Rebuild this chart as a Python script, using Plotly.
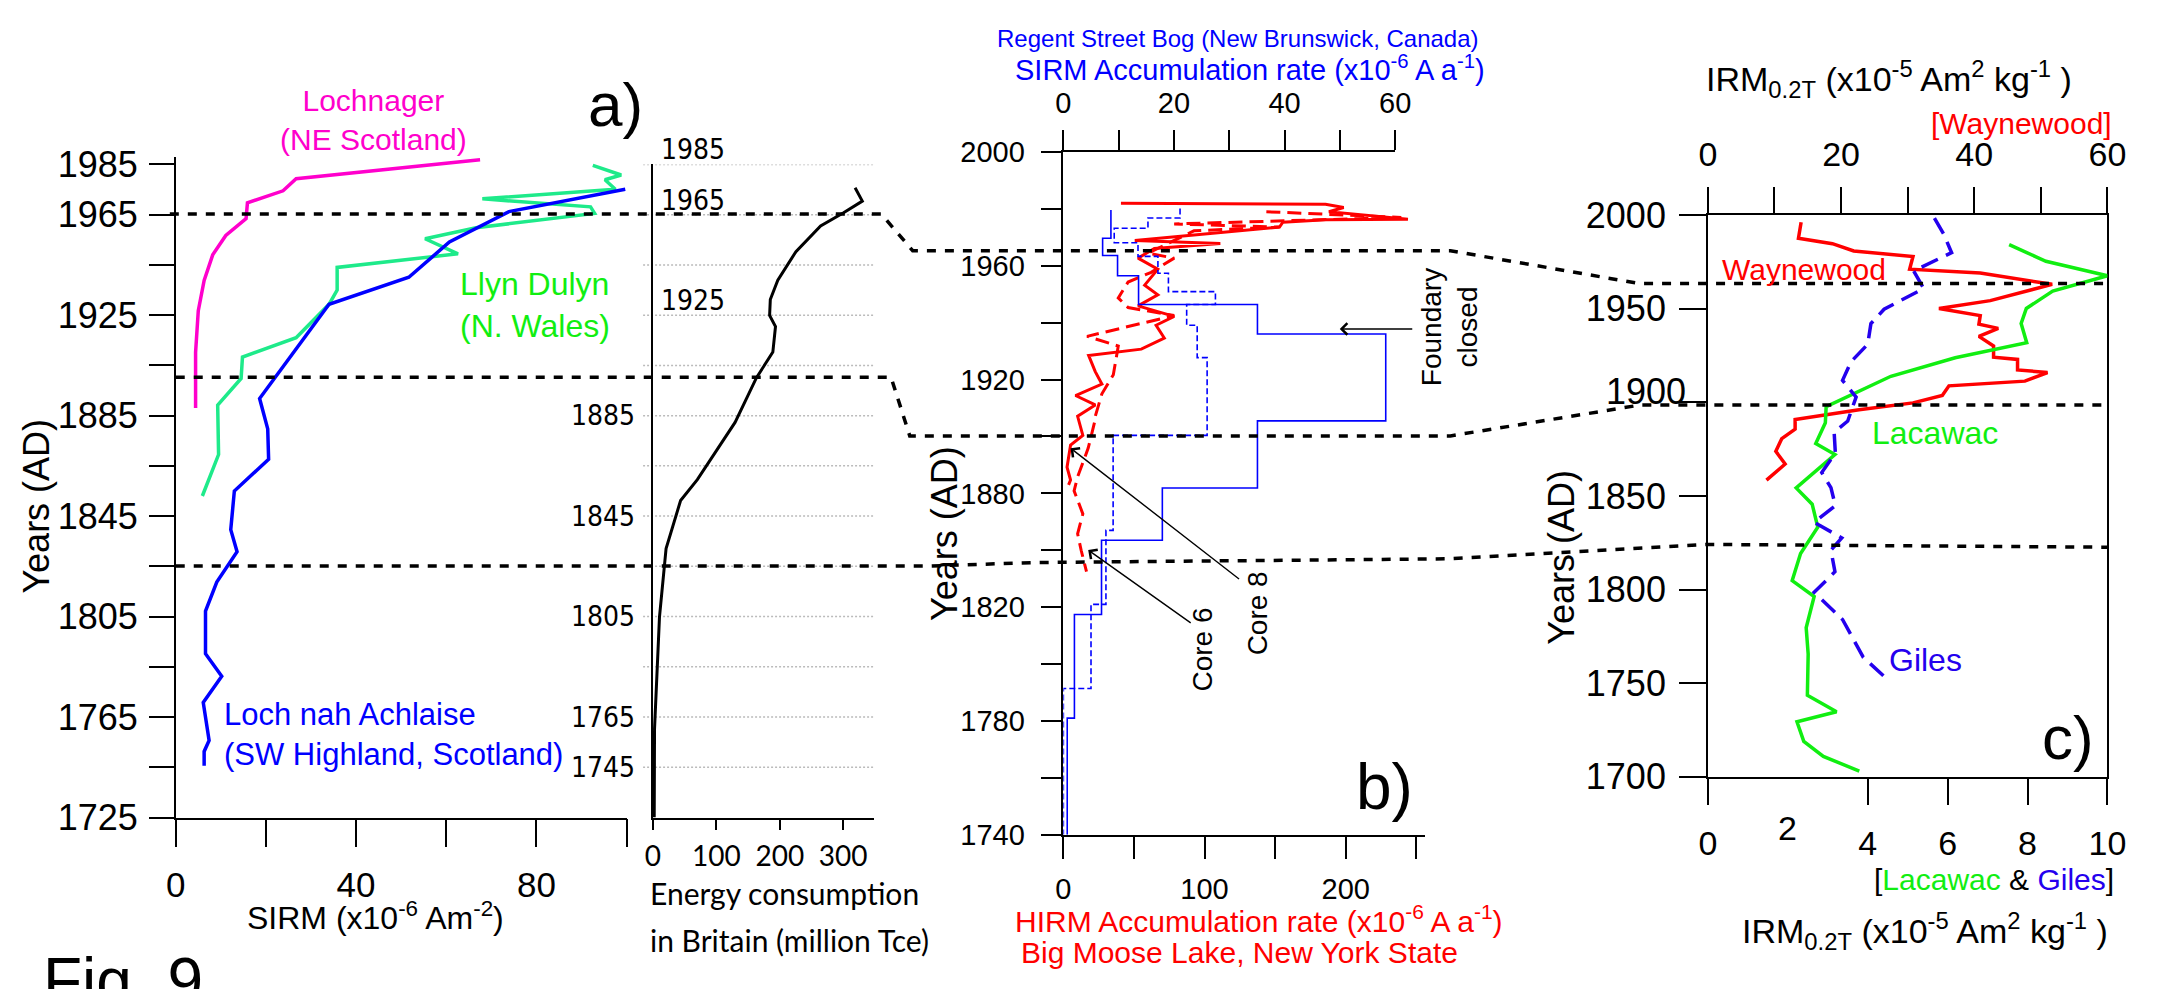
import plotly.graph_objects as go

W, H = 2159, 989

# ---------------- data ----------------
# Panel a : SIRM (x10^-6 Am^-2) against year (AD)
lochnager_sirm = [67.5, 26.7, 23.8, 15.9, 15.6, 11.1, 8.2, 6.3, 5.0, 4.4, 4.4]
lochnager_year = [1986.9, 1979.3, 1974.5, 1969.7, 1963.4, 1956.7, 1949.0, 1938.8, 1926.8, 1910.2, 1888.0]

llyn_sirm = [92.5, 98.8, 95.2, 97.5, 68.0, 92.0, 92.9, 66.6, 55.3, 62.6, 35.8, 35.8, 34.0,
             26.7, 14.8, 14.5, 9.3, 9.5, 5.9]
llyn_year = [1984.6, 1980.8, 1978.9, 1975.1, 1971.3, 1968.1, 1965.5, 1959.8, 1955.4, 1949.4,
             1944.0, 1935.0, 1929.3, 1916.0, 1908.3, 1899.8, 1889.2, 1869.5, 1853.0]

achlaise_sirm = [99.7, 73.9, 60.7, 51.7, 34.0, 18.6, 20.4, 20.6, 13.0, 12.2, 13.6, 9.1, 6.6,
                 6.6, 10.2, 6.1, 7.4, 6.3, 6.3]
achlaise_year = [1975.1, 1966.2, 1954.1, 1940.1, 1929.3, 1891.8, 1879.7, 1867.6, 1855.0, 1839.6,
                 1830.8, 1818.7, 1807.2, 1790.2, 1781.2, 1770.8, 1755.7, 1751.3, 1745.6]

# Energy consumption in Britain (million Tce)
energy_val = [318.8, 330.2, 300.6, 264.4, 225.5, 196.9, 185.1, 184.0, 193.3, 189.1, 163.3,
              129.5, 70.0, 43.6, 20.7, 10.3, 2.5, 2.0]
energy_year = [1975.7, 1970.4, 1965.8, 1960.5, 1950.3, 1938.9, 1931.2, 1924.9, 1920.5, 1910.3,
               1900.1, 1882.3, 1859.5, 1851.2, 1832.1, 1804.8, 1760.3, 1725.0]
energy_grid_years = list(range(1745, 1986, 20))
energy_labels_right = [1985, 1965, 1925]
energy_labels_left = [1885, 1845, 1805, 1765, 1745]

# Panel b : Regent Street Bog SIRM accumulation (step profiles), position on the b) year scale
bog_solid_val = [8.6, 7.1, 9.8, 13.6, 35.1, 58.3, 35.1, 17.9, 6.9, 2.0, 0.7]
bog_solid_bounds = [1979.6, 1969.7, 1963.6, 1956.5, 1946.4, 1936.0, 1905.5, 1881.9, 1863.5,
                    1837.4, 1801.0, 1760.0]
bog_dash_val = [21.1, 15.3, 9.2, 13.5, 17.1, 19.0, 27.5, 22.3, 24.2, 26.0, 9.0, 7.7, 5.0, 0.0]
bog_dash_bounds = [1980.1, 1976.8, 1973.2, 1968.1, 1963.3, 1957.4, 1950.9, 1946.4, 1939.1,
                   1927.7, 1900.4, 1867.0, 1841.0, 1811.4, 1760.0]

# Big Moose Lake HIRM accumulation (Core 8 solid, Core 6 dashed)
core8_hirm = [40.8, 185.7, 198.6, 188.1, 244.1, 185.7, 155.5, 153.1, 50.6, 111.2, 64.5, 52.9,
              66.9, 57.6, 66.9, 52.9, 78.5, 65.7, 71.5, 55.2, 17.9, 22.6, 27.3, 8.6, 22.6, 10.1,
              13.8, 5.1, 2.6, 5.1, 3.7]
core8_year = [1982.0, 1981.6, 1980.5, 1979.0, 1976.4, 1976.2, 1975.3, 1973.6, 1968.9, 1967.8,
              1966.1, 1962.7, 1958.8, 1953.2, 1949.8, 1945.9, 1942.2, 1939.1, 1934.6, 1930.7,
              1928.5, 1922.8, 1918.4, 1914.4, 1911.1, 1907.1, 1900.4, 1897.0, 1889.2, 1884.7,
              1883.0]
core6_hirm = [143.8, 239.4, 78.5, 153.1, 92.5, 59.9, 78.5, 62.2, 45.9, 38.9, 45.9, 78.5, 16.8,
              38.9, 35.4, 27.3, 22.6, 22.6, 17.6, 10.1, 7.6, 13.8, 10.1, 12.6, 16.4]
core6_year = [1979.0, 1977.0, 1974.7, 1973.6, 1972.3, 1964.4, 1962.7, 1957.7, 1954.3, 1948.7,
              1945.3, 1942.5, 1935.2, 1931.8, 1921.7, 1915.0, 1907.1, 1906.0, 1895.9, 1885.8,
              1880.9, 1872.8, 1865.8, 1860.0, 1852.5]
# b) year axis: labelled positions and the label printed there
b_tick_pos = [2000, 1960, 1920, 1880, 1840, 1800, 1760]
b_tick_text = ["2000", "1960", "1920", "1880", "1820", "1780", "1740"]
b_minor_pos = [1980, 1940, 1900, 1860, 1820, 1780]

# Panel c : IRM0.2T
waynewood_val = [14.0, 13.6, 18.7, 21.9, 30.8, 30.3, 40.9, 51.7, 42.4, 34.7, 40.9, 40.7, 43.6,
                 40.7, 42.9, 42.9, 46.5, 46.5, 51.0, 47.6, 36.2, 35.2, 30.8, 22.7, 13.1, 13.1,
                 11.1, 10.2, 11.6, 8.8]
waynewood_year = [1996.2, 1987.6, 1984.7, 1980.8, 1977.9, 1971.1, 1969.0, 1963.0, 1954.3, 1950.1,
                  1946.3, 1941.7, 1939.5, 1935.2, 1930.1, 1924.1, 1922.9, 1917.3, 1915.9, 1911.3,
                  1908.8, 1903.6, 1899.7, 1896.0, 1890.8, 1885.7, 1880.6, 1873.8, 1867.0, 1858.4]
lacawac_val = [7.54, 8.46, 10.0, 8.63, 7.97, 7.84, 7.98, 6.19, 4.58, 2.96, 2.94, 2.70, 3.18, 2.21,
               2.61, 2.75, 2.32, 2.11, 2.66, 2.46, 2.51, 2.49, 3.22, 2.23, 2.40, 2.89, 3.79]
lacawac_year = [1984.2, 1975.3, 1967.6, 1959.4, 1950.1, 1942.1, 1931.8, 1923.8, 1913.9, 1897.7,
                1889.1, 1878.0, 1872.1, 1854.3, 1845.6, 1833.3, 1819.2, 1804.8, 1796.3, 1779.6,
                1765.5, 1743.5, 1734.7, 1729.4, 1718.9, 1710.9, 1703.0]
giles_val = [5.67, 5.90, 6.10, 5.15, 5.40, 4.41, 4.08, 4.00, 3.58, 3.37, 3.71, 3.50, 3.16, 3.19,
             2.85, 3.08, 3.19, 2.66, 3.35, 3.08, 3.18, 2.66, 3.37, 3.89, 4.41]
giles_year = [1998.4, 1989.9, 1979.9, 1970.2, 1960.8, 1949.7, 1942.0, 1931.0, 1921.6, 1911.7,
              1902.8, 1890.0, 1884.0, 1872.9, 1862.5, 1854.4, 1844.8, 1835.9, 1827.6, 1821.0,
              1809.5, 1798.5, 1784.0, 1763.8, 1753.6]

# dated horizons linking the panels: (x pixel, panel, year)
horizons = [
    [(162, "a", 1965.3), (883, "a", 1965.3), (915, "b", 1965.3), (1460, "b", 1965.3),
     (1652, "c", 1963.4), (2126, "c", 1963.4)],
    [(168, "a", 1900.3), (893, "a", 1900.3), (912, "b", 1900.2), (1460, "b", 1900.2),
     (1652, "c", 1898.5), (2126, "c", 1898.5)],
    [(168, "a", 1825.1), (930, "a", 1825.1), (1040, "b", 1855.7), (1460, "b", 1857.0),
     (1720, "c", 1824.1), (2126, "c", 1822.6)],
]

# ---------------- layout geometry (pixels) ----------------
def fx(p):
    return p / W


def fy(p):
    return 1 - p / H


A_X, A_Y, A_YR, A_XR = (168, 625), (832, 142.8), (1725, 1988), (0, 100)
E_X, E_Y, E_YR, E_XR = (651.7, 876), (832, 150.7), (1725, 1985), (0, 349)
B_X, B_XT, B_Y = (1067.7, 1434), (1067.7, 1404), (850, 137.7)
B_YR, B_XR, B_XTR = (1760, 2000), (0, 256), (0, 60)
C_X, C_Y, C_YR = (1721, 2126), (789.5, 203.5), (1700, 2000)

PANEL_Y = {"a": (A_Y, A_YR), "b": (B_Y, B_YR), "c": (C_Y, C_YR)}


def year_paper(panel, year):
    (p0, p1), (r0, r1) = PANEL_Y[panel]
    d0, d1 = fy(p0), fy(p1)
    return d0 + (year - r0) / (r1 - r0) * (d1 - d0)


FONT = "Liberation Sans, Arial, sans-serif"
NARROW = "Liberation Sans Narrow, DejaVu Sans Condensed, Arial Narrow, sans-serif"
CAL = "Lato, Carlito, Calibri, sans-serif"

BLUE = "#0000FF"
RED = "#FF0000"
MAGENTA = "#FF00CC"
SPRING = "#1EEA8A"
GREEN = "#11EE11"
GILES = "#2400EE"


def steps(vals, bounds):
    xs, ys = [], []
    for i, v in enumerate(vals):
        xs += [v, v]
        ys += [bounds[i], bounds[i + 1]]
    return xs, ys


fig = go.Figure()

# panel a
fig.add_trace(go.Scatter(x=lochnager_sirm, y=lochnager_year, mode="lines",
                         line=dict(color=MAGENTA, width=3.5), xaxis="x", yaxis="y"))
fig.add_trace(go.Scatter(x=llyn_sirm, y=llyn_year, mode="lines",
                         line=dict(color=SPRING, width=3.5), xaxis="x", yaxis="y"))
fig.add_trace(go.Scatter(x=achlaise_sirm, y=achlaise_year, mode="lines",
                         line=dict(color=BLUE, width=3.5), xaxis="x", yaxis="y"))
# energy
fig.add_trace(go.Scatter(x=energy_val, y=energy_year, mode="lines",
                         line=dict(color="black", width=3), xaxis="x2", yaxis="y2"))
# panel b
sx, sy = steps(bog_solid_val, bog_solid_bounds)
fig.add_trace(go.Scatter(x=sx, y=sy, mode="lines", line=dict(color=BLUE, width=1.6),
                         xaxis="x4", yaxis="y3"))
dx, dy = steps(bog_dash_val, bog_dash_bounds)
fig.add_trace(go.Scatter(x=dx, y=dy, mode="lines",
                         line=dict(color=BLUE, width=1.6, dash="6px,3px"),
                         xaxis="x4", yaxis="y3"))
fig.add_trace(go.Scatter(x=core8_hirm, y=core8_year, mode="lines",
                         line=dict(color=RED, width=3), xaxis="x3", yaxis="y3"))
fig.add_trace(go.Scatter(x=core6_hirm, y=core6_year, mode="lines",
                         line=dict(color=RED, width=3, dash="14px,7px"), xaxis="x3", yaxis="y3"))
# panel c
fig.add_trace(go.Scatter(x=waynewood_val, y=waynewood_year, mode="lines",
                         line=dict(color=RED, width=3.5), xaxis="x5", yaxis="y4"))
fig.add_trace(go.Scatter(x=lacawac_val, y=lacawac_year, mode="lines",
                         line=dict(color=GREEN, width=3.5), xaxis="x6", yaxis="y4"))
fig.add_trace(go.Scatter(x=giles_val, y=giles_year, mode="lines",
                         line=dict(color=GILES, width=3.5, dash="18px,9px"),
                         xaxis="x6", yaxis="y4"))

AX = dict(showgrid=False, zeroline=False, showline=True, linecolor="black", linewidth=1.5,
          ticks="outside", tickcolor="black", tickwidth=1.5, fixedrange=True)


def ax(minor_vals=None, **kw):
    d = dict(AX)
    d.update(kw)
    if minor_vals is not None:
        d["minor"] = dict(tickvals=minor_vals, ticks="outside", ticklen=kw.get("ticklen", 20),
                          tickcolor="black", tickwidth=1.5, showgrid=False)
    return d


layout = dict(
    width=W, height=H, margin=dict(l=0, r=0, t=0, b=0),
    paper_bgcolor="white", plot_bgcolor="rgba(0,0,0,0)", showlegend=False,
    font=dict(family=FONT, color="black"),
    # panel a
    xaxis=ax(domain=[fx(A_X[0]), fx(A_X[1])], range=A_XR, anchor="y",
             tickvals=[0, 40, 80], minor_vals=[20, 60, 100],
             ticklen=28, tickfont=dict(size=35), ticklabelstandoff=8),
    yaxis=ax(domain=[fy(A_Y[0]), fy(A_Y[1])], range=A_YR, anchor="x",
             tickvals=[1725, 1765, 1805, 1845, 1885, 1925, 1965, 1985],
             minor_vals=[1745, 1785, 1825, 1865, 1905, 1945],
             ticklen=25, tickfont=dict(size=36), ticklabelstandoff=4),
    # energy
    xaxis2=ax(domain=[fx(E_X[0]), fx(E_X[1])], range=E_XR, anchor="y2",
              tickvals=[0, 100, 200, 300], ticklen=11, tickfont=dict(size=28, family=CAL),
              ticklabelstandoff=2),
    yaxis2=ax(domain=[fy(E_Y[0]), fy(E_Y[1])], range=E_YR, anchor="x2",
              ticks="", showticklabels=False),
    # panel b
    xaxis3=ax(domain=[fx(B_X[0]), fx(B_X[1])], range=B_XR, anchor="y3",
              tickvals=[0, 100, 200], minor_vals=[50, 150, 250],
              ticklen=22, tickfont=dict(size=29), ticklabelstandoff=6),
    xaxis4=ax(domain=[fx(B_XT[0]), fx(B_XT[1])], range=B_XTR, anchor="y3", side="top",
              tickvals=[0, 20, 40, 60], minor_vals=[10, 30, 50],
              ticklen=20, tickfont=dict(size=29), ticklabelstandoff=6),
    yaxis3=ax(domain=[fy(B_Y[0]), fy(B_Y[1])], range=B_YR, anchor="x3",
              tickvals=b_tick_pos, ticktext=b_tick_text, minor_vals=b_minor_pos,
              ticklen=21, tickfont=dict(size=29), ticklabelstandoff=10),
    # panel c
    xaxis5=ax(domain=[fx(C_X[0]), fx(C_X[1])], range=[0, 60], anchor="y4", side="top",
              tickvals=[0, 20, 40, 60], minor_vals=[10, 30, 50],
              ticklen=26, tickfont=dict(size=34), ticklabelstandoff=8),
    xaxis6=ax(domain=[fx(C_X[0]), fx(C_X[1])], range=[0, 10], anchor="y4",
              tickvals=[0, 4, 6, 8, 10], ticklen=26, tickfont=dict(size=34),
              ticklabelstandoff=10),
    yaxis4=ax(domain=[fy(C_Y[0]), fy(C_Y[1])], range=C_YR, anchor="x5", mirror=True,
              tickvals=[1700, 1750, 1800, 1850, 1950, 2000], minor_vals=[1900], ticklen=27,
              tickfont=dict(size=36), ticklabelstandoff=6),
)
fig.update_layout(**layout)

shapes = []
# energy dotted gridlines
for yr in energy_grid_years:
    shapes.append(dict(type="line", xref="paper", yref="y2", x0=fx(641.7), x1=fx(876.7),
                       y0=yr, y1=yr, line=dict(color="#BBBBBB", width=1.5, dash="2px,2px"),
                       layer="below"))
# dashed horizons
for hz in horizons:
    path = ""
    for i, (xp, panel, yr) in enumerate(hz):
        path += ("M" if i == 0 else "L") + f"{fx(xp):.5f},{year_paper(panel, yr):.5f} "
    shapes.append(dict(type="path", xref="paper", yref="paper", path=path.strip(),
                       line=dict(color="black", width=3.5, dash="9px,9px"), layer="above"))
fig.update_layout(shapes=shapes)

ann = []


def text(x, y, s, size, color="black", family=FONT, xanchor="center", yanchor="middle",
         angle=0, align="center"):
    ann.append(dict(x=fx(x), y=fy(y), xref="paper", yref="paper", text=s, showarrow=False,
                    font=dict(size=size, color=color, family=family), xanchor=xanchor,
                    yanchor=yanchor, textangle=angle, align=align))


# panel a texts
text(368, 104, "Lochnager<br>(NE Scotland)", 30, MAGENTA)
text(454, 297, "Llyn Dulyn<br>(N. Wales)", 32, GREEN, xanchor="left", align="left")
text(215, 745, "Loch nah Achlaise<br>(SW Highland, Scotland)", 31, BLUE, xanchor="left",
     align="left")
text(614, 88, "a)", 62)
text(27, 507, "Years (AD)", 36, angle=-90)
text(370, 935, "SIRM (x10<sup>-6</sup> Am<sup>-2</sup>)", 32)
text(31, 963, "Fig. 9", 64, xanchor="left", yanchor="top")
# energy labels
for yr in energy_labels_right:
    ann.append(dict(x=fx(658), y=yr, xref="paper", yref="y2", text=str(yr), showarrow=False,
                    font=dict(size=28, family=NARROW), xanchor="left", yanchor="bottom",
                    yshift=-4))
for yr in energy_labels_left:
    ann.append(dict(x=fx(636), y=yr, xref="paper", yref="y2", text=str(yr), showarrow=False,
                    font=dict(size=28, family=NARROW), xanchor="right", yanchor="middle"))
text(647, 911, "Energy consumption", 30, family=CAL, xanchor="left")
text(647, 960, "in Britain (million Tce)", 30, family=CAL, xanchor="left")
# panel b texts
text(1245, 19, "Regent Street Bog (New Brunswick, Canada)", 24, BLUE)
text(1257, 50, "SIRM Accumulation rate (x10<sup>-6</sup> A a<sup>-1</sup>)", 29, BLUE)
text(1266, 938, "HIRM Accumulation rate (x10<sup>-6</sup> A a<sup>-1</sup>)", 30, RED)
text(1246, 973, "Big Moose Lake, New York State", 30, RED)
text(947, 536, "Years (AD)", 36, angle=-90)
text(1459, 320, "Foundary<br>closed", 28, angle=-90)
text(1209, 657, "Core 6", 28, angle=-90)
text(1264, 619, "Core 8", 28, angle=-90)
text(1393, 800, "b)", 64)
# arrows (heads on data positions of panel b)
for hx, hy, axp, ayp in [(195.8, 1937.8, 74, 0), (17.6, 1860.1, 104, 74), (5.1, 1895.9, 170, 132)]:
    ann.append(dict(x=hx, y=hy, xref="x3", yref="y3", ax=axp, ay=ayp, text="", showarrow=True,
                    arrowhead=4, arrowsize=1.6, arrowwidth=1.4, arrowcolor="black",
                    standoff=0))
# panel c texts
text(1905, 62, "IRM<sub>0.2T</sub> (x10<sup>-5</sup> Am<sup>2</sup> kg<sup>-1</sup> )", 34)
text(2133, 108, "[Waynewood]", 30, RED, xanchor="right")
text(1818, 260, "Waynewood", 30, RED)
text(1951, 431, "Lacawac", 32, GREEN)
text(1942, 668, "Giles", 32, GILES)
text(2086, 749, "c)", 62)
text(1573, 560, "Years (AD)", 36, angle=-90)
text(1701, 388, "1900", 36, xanchor="right")
ann.append(dict(x=2, y=fy(843), xref="x6", yref="paper", text="2", showarrow=False,
                font=dict(size=34, family=FONT), xanchor="center", yanchor="middle"))
text(2135, 897, "[<span style='color:#11EE11'>Lacawac</span> &amp; "
                "<span style='color:#2400EE'>Giles</span>]", 30, xanchor="right")
text(2129, 950, "IRM<sub>0.2T</sub> (x10<sup>-5</sup> Am<sup>2</sup> kg<sup>-1</sup> )", 34,
     xanchor="right")
fig.update_layout(annotations=ann)

fig.write_html("out.html")
